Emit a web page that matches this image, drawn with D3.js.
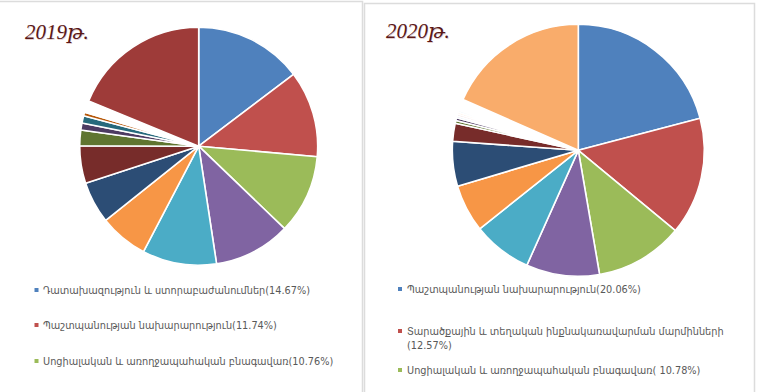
<!DOCTYPE html>
<html><head><meta charset="utf-8">
<script src="https://cdn.jsdelivr.net/npm/d3@7"></script>
<style>
html,body{margin:0;padding:0;background:#fff;}
svg{display:block;}
</style></head>
<body>
<svg id="c" width="758" height="392"></svg>
<script>
// ---- data ----
const titles = ["2019թ.", "2020թ."];
const values2019 = [14.67, 11.74, 10.76, 10.43, 10.08, 6.6, 5.69, 5.1, 2.1, 0.95, 1.0, 0.5, 1.6, 18.78];
const colors2019 = ["#4F81BD","#C0504D","#9BBB59","#8064A2","#4BACC6","#F79646","#2C4D75","#772C2A","#5F7530","#4D3B62","#276A7C","#B65708","#FFFFFF","#9E3B39"];
const values2020 = [20.9, 15.1, 11.3, 9.4, 7.6, 6.1, 5.75, 2.3, 0.35, 0.35, 0.25, 0.25, 0.25, 0.25, 1.45, 18.4];
const colors2020 = ["#4F81BD","#C0504D","#9BBB59","#8064A2","#4BACC6","#F79646","#2C4D75","#772C2A","#5F7530","#4D3B62","#B9CDE5","#F2DCDB","#FCD5B5","#DBEEF4","#FFFFFF","#F9AC6B"];
const legend2019 = [" Դատախազություն և ստորաբաժանումներ(14.67%)", "Պաշտպանության նախարարություն(11.74%)", "Սոցիալական և առողջապահական բնագավառ(10.76%)"];
const legend2020 = [["Պաշտպանության նախարարություն(20.06%)"], ["Տարածքային և տեղական ինքնակառավարման մարմինների", "(12.57%)"], ["Սոցիալական և առողջապահական բնագավառ( 10.78%)"]];
const legendColors = ["#4F81BD","#C0504D","#9BBB59"];

const svg = d3.select("#c");

// panels
svg.append("path").attr("d","M0,1.5H362.5V392").attr("fill","none").attr("stroke","#dcdcdc").attr("stroke-width",1.5);
svg.append("path").attr("d","M364.5,392V3.5H754.5V392").attr("fill","none").attr("stroke","#dcdcdc").attr("stroke-width",1.5);

const pie = d3.pie().sort(null).value(d => d);

function drawPie(vals, cols, cx, cy, r) {
  const arc = d3.arc().innerRadius(0).outerRadius(r);
  const g = svg.append("g").attr("transform", `translate(${cx},${cy})`);
  g.selectAll("path").data(pie(vals)).join("path")
    .attr("d", arc)
    .attr("fill", (d,i) => cols[i])
    .attr("stroke", "#fff")
    .attr("stroke-width", 1.6)
    .attr("stroke-linejoin", "round");
}
drawPie(values2019, colors2019, 198.7, 146.2, 119);
drawPie(values2020, colors2020, 578.3, 150.3, 126);

// titles
const tfont = "'Liberation Serif','DejaVu Serif',serif";
[[25, 39, titles[0]], [386, 38, titles[1]]].forEach(([x,y,t]) => {
  svg.append("text").attr("x", x+0.6).attr("y", y+0.6).text(t)
    .attr("font-family", tfont).attr("font-style","italic").attr("font-size", 21)
    .attr("fill", "#c9a0a0").attr("opacity",0.5);
  svg.append("text").attr("x", x).attr("y", y).text(t)
    .attr("font-family", tfont).attr("font-style","italic").attr("font-size", 21)
    .attr("fill", "#5a1818");
});

// legends
const lfont = "'DejaVu Sans','Noto Sans',sans-serif";
function legendText(x, y, t) {
  svg.append("text").attr("transform", `translate(${x},${y}) scale(0.92,1)`).attr("dy","0.35em").text(t)
    .attr("font-family", lfont).attr("font-size", 10.6).attr("fill", "#595959");
}
const ly2019 = [290, 325, 361];
legend2019.forEach((t,i) => {
  svg.append("rect").attr("x", 34.5).attr("y", ly2019[i]-2).attr("width",4).attr("height",4).attr("fill", legendColors[i]);
  legendText(43, ly2019[i], t);
});
const ly2020 = [289, 331, 370];
legend2020.forEach((lines,i) => {
  svg.append("rect").attr("x", 398).attr("y", ly2020[i]-2).attr("width",4).attr("height",4).attr("fill", legendColors[i]);
  lines.forEach((t,j) => legendText(407, ly2020[i] + j*14.5, t));
});
</script>
</body></html>
